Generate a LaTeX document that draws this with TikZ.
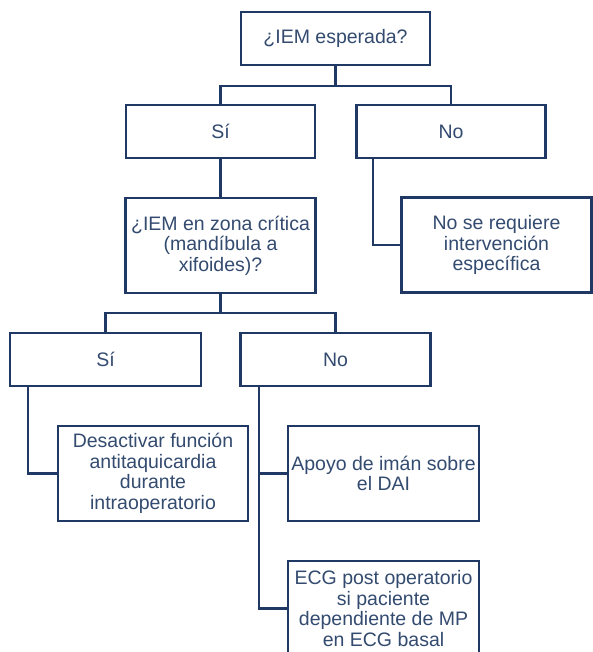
\documentclass[tikz,border=0pt]{standalone}
\usepackage{fontspec}
\setmainfont{Liberation Sans}
\definecolor{boxline}{HTML}{1F3864}
\definecolor{boxtext}{HTML}{344B70}
\begin{document}
\begin{tikzpicture}[x=1pt,y=-1pt,
  box/.style={draw=boxline, line width=2.4pt, fill=white, inner sep=0pt,
    align=center, text=boxtext, font=\fontsize{19.5}{20.6}\selectfont},
  shortbox/.style={box, minimum width=189pt, minimum height=53pt},
  tallbox/.style={box, minimum width=190pt, minimum height=95pt},
  link/.style={draw=boxline, line width=2.2pt}]
\useasboundingbox (0,0) rectangle (593,652);
\clip (0,0) rectangle (593,652);
% bus coordinates
\coordinate (b1) at (0,85.7);
\coordinate (b2) at (0,313.3);
% nodes
\node[shortbox] (top) at (335.5,38.5) {¿IEM esperada?};
\node[shortbox] (si1) at (220.5,131.5) {Sí};
\node[shortbox] (no1) at (451,131.5) {No};
\node[tallbox] (crit) at (220.5,245.5) {¿IEM en zona crítica\\(mandíbula a\\xifoides)?};
\node[tallbox] (nosereq) at (496.5,245) {No se requiere\\intervención\\específica};
\node[shortbox, minimum width=191pt] (si2) at (105.5,359.5) {Sí};
\node[shortbox, minimum width=190pt] (no2) at (335.5,359.5) {No};
\node[tallbox] (desact) at (153,473.5) {Desactivar función\\antitaquicardia\\durante\\intraoperatorio};
\node[tallbox, minimum width=191pt] (iman) at (383.5,473.5) {Apoyo de imán sobre\\el DAI};
\node[tallbox, minimum width=191pt] (ecg) at (383.5,608.5) {ECG post operatorio\\si paciente\\dependiente de MP\\en ECG basal};
% connectors
\draw[link] (top.south) -- (top.south |- b1) -| (si1.north);
\draw[link] (top.south) -- (top.south |- b1) -| (no1.north);
\draw[link] (si1.south) -- (crit.north);
\draw[link] ([xshift=18pt]no1.south west) |- (nosereq.west);
\draw[link] (crit.south) -- (crit.south |- b2) -| (si2.north);
\draw[link] (crit.south) -- (crit.south |- b2) -| (no2.north);
\draw[link] ([xshift=19.5pt]si2.south west) |- (desact.west);
\draw[link] ([xshift=19.5pt]no2.south west) |- (iman.west);
\draw[link] ([xshift=19.5pt]no2.south west) |- (ecg.west);
\end{tikzpicture}
\end{document}
